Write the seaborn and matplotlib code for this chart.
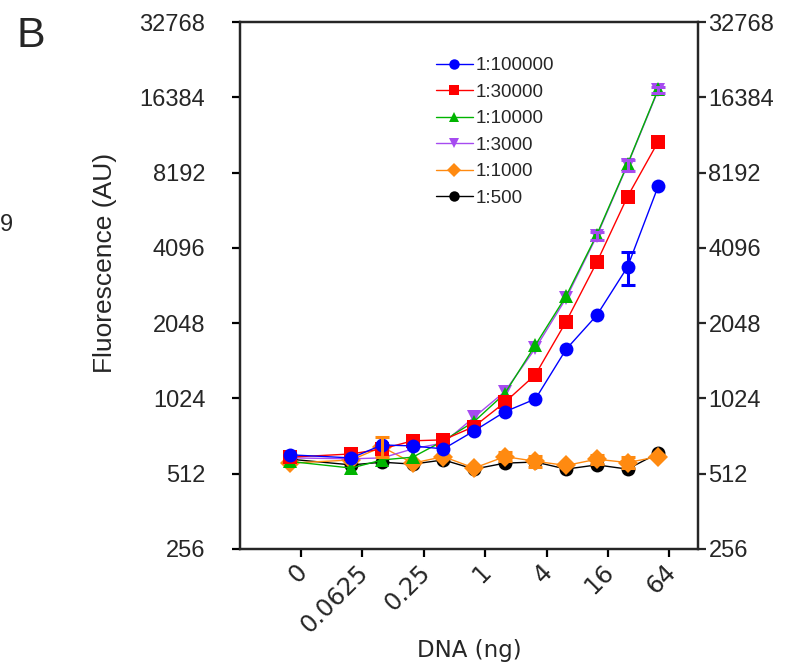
import numpy as np
import pandas as pd
import matplotlib
matplotlib.use("Agg")
import matplotlib.pyplot as plt
import matplotlib.transforms as mtransforms
import seaborn as sns
from matplotlib.lines import Line2D
from matplotlib.ticker import FixedLocator, NullLocator

# DNA input (ng); the 0 ng sample is drawn at the 2^-6 slot of the log2 axis
dna_ng = [0, 0.0625, 0.125, 0.25, 0.5, 1, 2, 4, 8, 16, 32, 64]

dilutions = ["1:100000", "1:30000", "1:10000", "1:3000", "1:1000", "1:500"]

# mean fluorescence (AU) for each primary-antibody dilution
fl_1_100000 = [609, 592, 667, 661, 643, 759, 905, 1019, 1610, 2202, 3435, 7221]
fl_1_30000 = [596, 614, 643, 693, 699, 790, 987, 1275, 2077, 3588, 6562, 10884]
fl_1_10000 = [573, 539, 581, 596, 693, 827, 1071, 1675, 2630, 4625, 8842, 17628]
fl_1_3000 = [592, 587, 592, 643, 680, 861, 1090, 1626, 2576, 4570, 8785, 17500]
fl_1_1000 = [564, 581, 655, 564, 599, 539, 599, 574, 552, 585, 567, 599]
fl_1_500 = [585, 555, 569, 559, 581, 534, 564, 570, 534, 555, 534, 618]

# standard deviations (0 where the bar is hidden by the marker)
sd_1_100000 = [0, 0, 0, 0, 0, 0, 0, 0, 0, 0, 520, 0]
sd_1_3000 = [0, 0, 0, 0, 0, 0, 0, 0, 0, 150, 450, 450]
sd_1_1000 = [0, 0, 60, 0, 0, 0, 25, 30, 0, 25, 30, 0]

x_tick_values = [0, 0.0625, 0.25, 1, 4, 16, 64]
x_tick_labels = ["0", "0.0625", "0.25", "1", "4", "16", "64"]
y_tick_values = [256, 512, 1024, 2048, 4096, 8192, 16384, 32768]

ZERO_POS = 2.0 ** -6
TICK_SHIFT = 2.0 ** 0.36

series = {
    "1:100000": fl_1_100000,
    "1:30000": fl_1_30000,
    "1:10000": fl_1_10000,
    "1:3000": fl_1_3000,
    "1:1000": fl_1_1000,
    "1:500": fl_1_500,
}
errors = {"1:100000": sd_1_100000, "1:3000": sd_1_3000, "1:1000": sd_1_1000}

colors = {
    "1:100000": "#0000FF",
    "1:30000": "#FF0000",
    "1:10000": "#00B400",
    "1:3000": "#A64BF0",
    "1:1000": "#FF8A10",
    "1:500": "#000000",
}
markers = {
    "1:100000": "o",
    "1:30000": "s",
    "1:10000": "^",
    "1:3000": "v",
    "1:1000": "D",
    "1:500": "o",
}

def xpos(v):
    return v if v > 0 else ZERO_POS

rows = []
for name in dilutions:
    for d, f in zip(dna_ng, series[name]):
        rows.append({"dilution": name, "dna": xpos(d), "fl": f})
df = pd.DataFrame(rows)

sns.set_style("ticks")
plt.rcParams["font.family"] = ["Liberation Sans", "DejaVu Sans"]

fig = plt.figure(figsize=(7.87, 6.67), dpi=100)
ax = fig.add_axes([0.305, 0.177, 0.582, 0.790])

draw_order = ["1:500", "1:1000", "1:3000", "1:10000", "1:30000", "1:100000"]
sns.lineplot(
    data=df, x="dna", y="fl", hue="dilution", style="dilution",
    hue_order=draw_order, style_order=draw_order,
    palette=colors, markers=markers, dashes=False,
    markersize=10, markeredgewidth=0, linewidth=1.0,
    errorbar=None, legend=False, ax=ax,
)

for name, sd in errors.items():
    xs = [xpos(d) for d, s in zip(dna_ng, sd) if s > 0]
    ys = [f for f, s in zip(series[name], sd) if s > 0]
    es = [s for s in sd if s > 0]
    ax.errorbar(xs, ys, yerr=es, fmt="none", ecolor=colors[name],
                elinewidth=2.2, capsize=5, capthick=2.2, zorder=5)

ax.set_xscale("log", base=2)
ax.set_yscale("log", base=2)
ax.set_xlim(2.0 ** -7.63, 2.0 ** 7.30)
ax.set_ylim(256, 32768)

ax.xaxis.set_major_locator(FixedLocator([xpos(v) * TICK_SHIFT for v in x_tick_values]))
ax.set_xticklabels(x_tick_labels, rotation=45, ha="right", va="top",
                   rotation_mode="anchor", fontsize=17.5, family="DejaVu Sans")
ax.xaxis.set_minor_locator(NullLocator())
ax.yaxis.set_major_locator(FixedLocator(y_tick_values))
ax.set_yticklabels([str(v) for v in y_tick_values], fontsize=17)
ax.yaxis.set_minor_locator(NullLocator())

ax.tick_params(axis="both", direction="out", length=6, width=1.6, color="black")
ax.tick_params(axis="y", pad=19)
ax.tick_params(axis="x", pad=2)
for sp in ax.spines.values():
    sp.set_visible(True)
    sp.set_linewidth(1.6)
    sp.set_color("black")

# shift the slanted DNA labels left of their ticks
shift = mtransforms.ScaledTranslation(-6 / 100, 0, fig.dpi_scale_trans)
for lab in ax.get_xticklabels():
    lab.set_transform(lab.get_transform() + shift)

# right-hand axis repeats the fluorescence scale
ax_r = ax.twinx()
ax_r.set_yscale("log", base=2)
ax_r.set_ylim(256, 32768)
ax_r.yaxis.set_major_locator(FixedLocator(y_tick_values))
ax_r.set_yticklabels([str(v) for v in y_tick_values], fontsize=17)
ax_r.yaxis.set_minor_locator(NullLocator())
ax_r.tick_params(axis="y", direction="out", length=6, width=1.6, pad=1.5)
for sp in ax_r.spines.values():
    sp.set_linewidth(1.6)

ax.set_xlabel("DNA (ng)", fontsize=16.5, family="DejaVu Sans", labelpad=1)
ax.set_ylabel("Fluorescence (AU)", fontsize=19, labelpad=16)
ax.yaxis.label.set_y(0.542)

handles = [
    Line2D([], [], color=colors[n], marker=markers[n], markersize=7.5,
           markeredgewidth=0, linewidth=1.0)
    for n in dilutions
]
ax_r.legend(handles, dilutions, loc="upper left", bbox_to_anchor=(0.39, 0.965),
            frameon=False, fontsize=13.5, handlelength=2.0, handletextpad=0.15,
            labelspacing=0.50)

fig.text(16 / 787, 1 - 47 / 667, "B", fontsize=31, va="baseline", ha="left")
fig.text(0.0, 1 - 225 / 667, "9", fontsize=17, va="center", ha="left")

fig.savefig("out.png", dpi=100)
